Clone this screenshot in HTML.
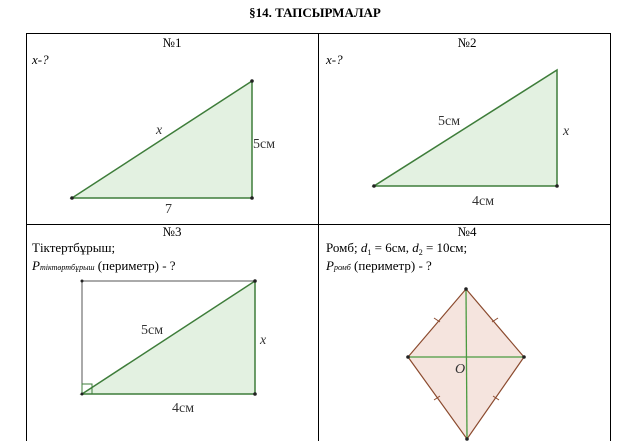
<!DOCTYPE html>
<html><head><meta charset="utf-8"><style>
body{margin:0;background:#fff;width:630px;height:441px;overflow:hidden}
svg{display:block;font-family:"Liberation Serif","DejaVu Serif",serif}
</style></head><body>
<svg width="630" height="441" viewBox="0 0 630 441">
<text x="315" y="17" text-anchor="middle" font-weight="bold" font-size="13">§14. ТАПСЫРМАЛАР</text>
<g stroke="#000" stroke-width="1" fill="none">
<line x1="26" y1="33.5" x2="611" y2="33.5"/>
<line x1="26" y1="224.5" x2="611" y2="224.5"/>
<line x1="26.5" y1="33" x2="26.5" y2="441"/>
<line x1="318.5" y1="33" x2="318.5" y2="441"/>
<line x1="610.5" y1="33" x2="610.5" y2="441"/>
</g>
<g font-size="13" fill="#000">
<text x="172" y="47" text-anchor="middle">№1</text>
<text x="467" y="47" text-anchor="middle">№2</text>
<text x="32" y="64" font-style="italic">x-?</text>
<text x="326" y="64" font-style="italic">x-?</text>
<text x="172" y="236" text-anchor="middle">№3</text>
<text x="467" y="236" text-anchor="middle">№4</text>
<text x="32" y="252">Тіктертбұрыш;</text>
<text x="32" y="270"><tspan font-style="italic">P</tspan><tspan font-style="italic" font-size="8">тіктөртбұрыш</tspan> (периметр) - ?</text>
<text x="326" y="252">Ромб; <tspan font-style="italic">d</tspan><tspan font-size="8" dy="3">1</tspan><tspan dy="-3"> = 6см, </tspan><tspan font-style="italic">d</tspan><tspan font-size="8" dy="3">2</tspan><tspan dy="-3"> = 10см;</tspan></text>
<text x="326" y="270"><tspan font-style="italic">P</tspan><tspan font-style="italic" font-size="8">ромб</tspan> (периметр) - ?</text>
</g>
<!-- Figure 1 -->
<g>
<polygon points="72,198 252,198 252,81" fill="#e3f1e1" stroke="#3e7d3a" stroke-width="1.5"/>
<circle cx="252" cy="81" r="1.8" fill="#222"/><circle cx="252" cy="198" r="1.8" fill="#222"/><circle cx="72" cy="198" r="1.8" fill="#222"/>
<text x="156" y="134" font-size="14" font-style="italic" fill="#333">x</text>
<text x="253" y="148" font-size="14" fill="#333">5см</text>
<text x="165" y="213" font-size="14" fill="#333">7</text>
</g>
<!-- Figure 2 -->
<g>
<polygon points="374,186 557,186 557,70" fill="#e3f1e1" stroke="#3e7d3a" stroke-width="1.5"/>
<circle cx="557" cy="186" r="1.8" fill="#222"/><circle cx="374" cy="186" r="1.8" fill="#222"/>
<text x="438" y="125" font-size="14" fill="#333">5см</text>
<text x="563" y="135" font-size="14" font-style="italic" fill="#333">x</text>
<text x="472" y="205" font-size="14" fill="#333">4см</text>
</g>
<!-- Figure 3 -->
<g>
<polyline points="82,394 82,281 255,281" fill="none" stroke="#555" stroke-width="1"/>
<polygon points="82,394 255,394 255,281" fill="#e3f1e1" stroke="#3e7d3a" stroke-width="1.5"/>
<rect x="82" y="384" width="10" height="10" fill="none" stroke="#3e7d3a" stroke-width="1"/>
<circle cx="82" cy="281" r="1.5" fill="#222"/><circle cx="255" cy="281" r="1.8" fill="#222"/><circle cx="255" cy="394" r="1.8" fill="#222"/><circle cx="82" cy="394" r="1.5" fill="#222"/>
<text x="141" y="334" font-size="14" fill="#333">5см</text>
<text x="260" y="344" font-size="14" font-style="italic" fill="#333">x</text>
<text x="172" y="412" font-size="14" fill="#333">4см</text>
</g>
<!-- Figure 4 -->
<g>
<polygon points="466,289 524,357 467,439 408,357" fill="#f5e4de" stroke="#8b4a2e" stroke-width="1.2"/>
<line x1="466" y1="289" x2="467" y2="439" stroke="#4a9a40" stroke-width="1.3"/>
<line x1="408" y1="357" x2="524" y2="357" stroke="#4a9a40" stroke-width="1.3"/>
<g stroke="#8b4a2e" stroke-width="1">
<line x1="434" y1="318" x2="440" y2="322"/><line x1="492" y1="322" x2="498" y2="318"/>
<line x1="434" y1="400" x2="440" y2="396"/><line x1="493" y1="396" x2="499" y2="400"/>
</g>
<circle cx="466" cy="289" r="1.8" fill="#222"/><circle cx="408" cy="357" r="1.8" fill="#222"/><circle cx="524" cy="357" r="1.8" fill="#222"/><circle cx="467" cy="439" r="1.8" fill="#222"/>
<text x="455" y="373" font-size="14" font-style="italic" fill="#333">O</text>
</g>
</svg>
</body></html>
